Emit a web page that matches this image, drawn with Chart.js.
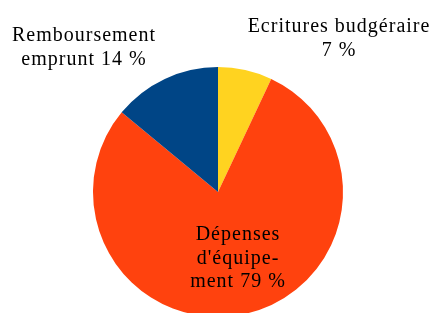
<!DOCTYPE html>
<html>
<head>
<meta charset="utf-8">
<script src="https://cdn.jsdelivr.net/npm/chart.js@4"></script>
<style>
  html, body { margin: 0; padding: 0; background: #fff; }
  #wrap { width: 437px; height: 313px; overflow: hidden; position: relative; }
  #wrap canvas { display: block; }
</style>
</head>
<body>
<div id="wrap"><canvas id="chart" width="437" height="384"></canvas></div>
<script>
// data
const categories = ['Ecritures budgéraire', "Dépenses d'équipement", 'Remboursement emprunt'];
const shares = [7, 79, 14];
const colors = ['#ffd320', '#ff420e', '#004586'];

// label text as printed, one entry per line
const labelLines = [
    ['Ecritures budgéraire', '7 %'],
    ['Dépenses', "d'équipe-", 'ment 79 %'],
    ['Remboursement', 'emprunt 14 %']
];

// where each label block sits (first baseline), relative to the pie center
const labelAnchors = [
    { dx: 121, dy: -160 },
    { dx: 20, dy: 48 },
    { dx: -134, dy: -151 }
];

const labelFont = '20px "Liberation Serif"';

const labelPlugin = {
    id: 'sliceLabels',
    afterDatasetsDraw(chart) {
        const ctx = chart.ctx;
        const arc = chart.getDatasetMeta(0).data[0];
        const cx = arc.x, cy = arc.y;
        ctx.save();
        ctx.font = labelFont;
        ctx.fillStyle = '#000';
        ctx.textAlign = 'center';
        ctx.textBaseline = 'alphabetic';
        if ('letterSpacing' in ctx) ctx.letterSpacing = '1px';
        labelLines.forEach((lines, i) => {
            const a = labelAnchors[i];
            lines.forEach((t, j) => {
                ctx.fillText(t, cx + a.dx, cy + a.dy + j * 23.5);
            });
        });
        ctx.restore();
    }
};

function draw() {
    new Chart(document.getElementById('chart'), {
        type: 'pie',
        data: {
            labels: categories,
            datasets: [{
                data: shares,
                backgroundColor: colors,
                borderWidth: 0
            }]
        },
        options: {
            responsive: false,
            animation: false,
            layout: { padding: { left: 93, right: 94, top: 67, bottom: 67 } },
            plugins: {
                legend: { display: false },
                tooltip: { enabled: false }
            }
        },
        plugins: [labelPlugin]
    });
}

document.fonts.load(labelFont).then(draw, draw);
</script>
</body>
</html>
